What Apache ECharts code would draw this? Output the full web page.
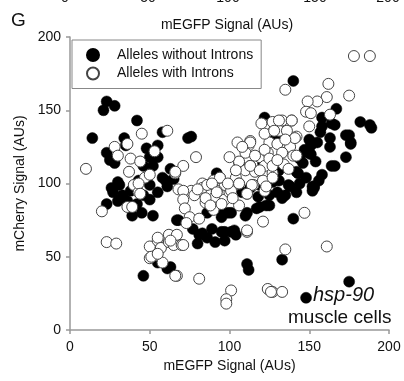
<!DOCTYPE html>
<html><head><meta charset="utf-8">
<script src="https://cdn.jsdelivr.net/npm/echarts@6/dist/echarts.min.js"></script>
<style>html,body{margin:0;padding:0;background:#fff}#c{width:404px;height:381px}</style>
</head><body><div id="c"></div>
<script>
const seriesNames = ['Alleles without Introns', 'Alleles with Introns'];
const xTicks = [0, 50, 100, 150, 200];
const yTicks = [0, 50, 100, 150, 200];
const withoutIntrons = [
[23,156],[28,153],[21,150],[42,143],[14,131],[58,135],[34,131],[74,131],[76,132],
[23,121],[25,116],[28,114],[48,124],[55,126],[50,118],[55,118],[46,112],[52,112],[58,104],[63,110],[60,102],[65,103],[43,102],
[31,99],[27,94],[42,97],[50,99],[61,98],[35,126],[30,101],[26,97],
[23,86],[30,88],[39,78],[45,80],[52,78],[33,92],[38,95],[46,92],[50,89],[55,94],[36,88],[42,86],
[46,37],[55,46],[61,42],[63,43],
[67,75],[68,75],[77,69],[81,65],[80,59],[86,63],[89,69],[95,67],[101,67],[104,65],[91,60],[97,61],[83,66],[97,67],[103,68],
[95,77],[101,80],[111,80],[119,84],[125,85],[94,83],[99,80],[110,78],[86,80],[117,83],[123,85],
[108,94],[113,97],[118,91],[125,92],[130,94],[133,90],[142,94],[152,95],[119,99],
[111,45],[112,41],[133,48],[175,33],[148,22],
[140,76],[153,97],
[140,170],[167,151],[158,145],[164,141],[158,139],[166,140],[182,142],[188,140],[189,138],
[175,133],[176,128],[163,125],[173,118],[155,128],[151,126],[149,121],[154,115],[146,114],[164,112],[158,106],[156,102],[152,98],[144,100],[138,98],[143,107],
[150,130],[157,135],[147,123],[144,117],[151,120],[163,131],[173,133],[176,127],[166,112],[153,98],[131,109],[131,102],[137,99],[148,104],[142,108],
[122,145],[129,131],[131,129],[92,107],[106,114],[121,114],[135,92],[127,101]
];
const withIntrons = [
[10,110],[45,134],[61,136],[28,125],[36,127],[53,122],[30,119],[38,117],[44,115],[37,108],[47,104],[40,99],[71,112],[79,118],[66,107],[66,108],[83,100],[76,95],[43,94],[50,106],[68,96],[43,100],
[20,81],[36,84],[39,84],[44,93],[23,60],[29,59],[50,57],[50,49],[54,51],[58,46],[67,37],[81,35],[55,61],[55,63],[57,56],[62,60],[62,65],[66,61],[65,58],[70,58],[51,50],[55,52],[66,37],
[71,95],[78,92],[71,89],[72,83],[83,97],[85,87],[91,91],[90,82],[97,89],[100,94],[106,85],[111,93],[122,95],[75,77],[81,76],[73,73],[67,65],[71,58],[63,61],[121,74],[111,67],[111,68],[101,27],[98,21],[98,18],[124,28],[127,26],[133,26],[126,26],
[147,80],[135,55],[161,57],
[105,128],[113,129],[112,126],[110,121],[106,115],[113,112],[110,109],[104,104],[119,118],[124,121],[125,128],[122,112],[116,108],[122,140],[130,142],[97,99],[94,104],[90,102],[86,99],[92,95],[101,95],[106,100],[115,99],[121,102],[127,107],
[120,141],[127,142],[133,143],[139,143],[122,134],[131,136],[137,131],[142,132],[130,127],[138,125],[140,119],[122,123],[113,128],[108,125],[116,119],[125,117],[113,112],[119,109],[127,112],[134,113],[100,118],[104,109],[94,104],[99,100],[89,100],[92,94],[106,100],[114,99],[111,93],[123,98],
[136,136],[141,131],[135,130],[128,136],[142,119],[133,121],[130,116],[127,104],[137,110],
[178,187],[188,187],[135,164],[162,168],[175,160],[161,159],[155,156],[149,156],[148,149],[151,148],[163,147],[150,139],[131,143],[139,143],
[85,90],[88,85],[95,86],[102,90],[80,96]
];
const prevTickLabels = ['0', '50', '100', '150', '200'];

const FONT = 'Liberation Sans, Arial, sans-serif';
const chart = echarts.init(document.getElementById('c'));
const prevX = [65, 148, 228, 315, 388];
const legendText = { fontSize: 14, color: '#111', fontFamily: FONT };
chart.setOption({
  animation: false,
  backgroundColor: '#fff',
  textStyle: { fontFamily: FONT },
  grid: { left: 70, right: 15, top: 37, bottom: 51 },
  xAxis: {
    type: 'value', min: xTicks[0], max: xTicks[xTicks.length - 1], interval: 50,
    name: 'mEGFP Signal (AUs)', nameLocation: 'middle', nameGap: 28,
    nameTextStyle: { fontSize: 14, color: '#111', fontFamily: FONT },
    axisLine: { show: true, onZero: false, lineStyle: { color: '#999', width: 1.5 } },
    axisTick: { show: true, length: 4, lineStyle: { color: '#999', width: 1.5 } },
    axisLabel: { fontSize: 14, color: '#111', margin: 10, fontFamily: FONT },
    splitLine: { show: false }
  },
  yAxis: {
    type: 'value', min: yTicks[0], max: yTicks[yTicks.length - 1], interval: 50,
    name: 'mCherry Signal (AUs)', nameLocation: 'middle', nameGap: 36,
    nameTextStyle: { fontSize: 14, color: '#111', fontFamily: FONT },
    axisLine: { show: true, onZero: false, lineStyle: { color: '#999', width: 1.5 } },
    axisTick: { show: true, length: 4, lineStyle: { color: '#999', width: 1.5 } },
    axisLabel: { fontSize: 14, color: '#111', margin: 9, fontFamily: FONT },
    splitLine: { show: false }
  },
  legend: {
    orient: 'vertical', left: 72, top: 40,
    padding: [8, 8, 8, 14], itemGap: 4.5, itemWidth: 38, itemHeight: 12,
    borderColor: '#888', borderWidth: 1, backgroundColor: '#fff',
    textStyle: legendText,
    data: seriesNames.map(n => ({ name: n, textStyle: legendText }))
  },
  series: [
    { name: seriesNames[0], type: 'scatter', symbol: 'circle', symbolSize: 11,
      itemStyle: { color: '#000', borderColor: '#000', borderWidth: 0.5, opacity: 1 },
      data: withoutIntrons },
    { name: seriesNames[1], type: 'scatter', symbol: 'circle', symbolSize: 11,
      itemStyle: { color: '#fff', borderColor: '#444', borderWidth: 1, opacity: 1 },
      data: withIntrons }
  ],
  graphic: [
    { type: 'text', left: 11, top: 11, style: { text: 'G', fontSize: 19, fill: '#111', fontFamily: FONT } },
    ...prevTickLabels.map((t, i) => ({ type: 'text', x: prevX[i], y: -2,
      style: { text: t, fontSize: 14, fill: '#111', fontFamily: FONT, align: 'center', verticalAlign: 'middle' } })),
    { type: 'text', x: 227, y: 25, style: { text: 'mEGFP Signal (AUs)', fontSize: 14, fill: '#111', fontFamily: FONT, align: 'center', verticalAlign: 'middle' } },
    { type: 'text', x: 313, y: 295, style: { text: 'hsp-90', fontSize: 20, fontStyle: 'italic', fill: '#111', fontFamily: FONT, align: 'left', verticalAlign: 'middle' } },
    { type: 'text', x: 288, y: 318, style: { text: 'muscle cells', fontSize: 19, fill: '#111', fontFamily: FONT, align: 'left', verticalAlign: 'middle' } }
  ]
});
</script></body></html>
